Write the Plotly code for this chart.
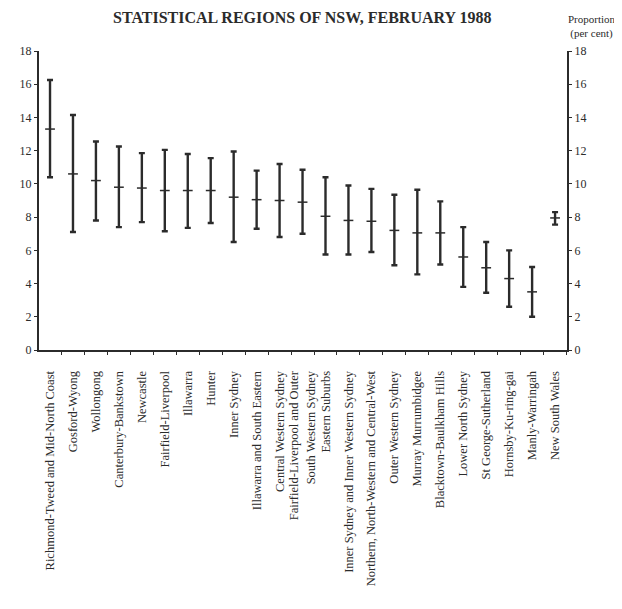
import plotly.graph_objects as go

regions = [
    "Richmond-Tweed and Mid-North Coast", "Gosford-Wyong", "Wollongong",
    "Canterbury-Bankstown", "Newcastle", "Fairfield-Liverpool", "Illawarra",
    "Hunter", "Inner Sydney", "Illawarra and South Eastern",
    "Central Western Sydney",
    "Fairfield-Liverpool and Outer<br>South Western Sydney",
    "Eastern Suburbs", "Inner Sydney and Inner Western Sydney",
    "Northern, North-Western and Central-West", "Outer Western Sydney",
    "Murray Murrumbidgee", "Blacktown-Baulkham Hills", "Lower North Sydney",
    "St George-Sutherland", "Hornsby-Ku-ring-gai", "Manly-Warringah",
    "New South Wales",
]
estimate = [13.3, 10.6, 10.2, 9.8, 9.75, 9.6, 9.6, 9.6, 9.2, 9.05, 9.0, 8.9,
            8.05, 7.8, 7.75, 7.2, 7.05, 7.05, 5.6, 4.95, 4.3, 3.5, 7.95]
upper = [16.25, 14.15, 12.55, 12.25, 11.85, 12.05, 11.8, 11.55, 11.95, 10.8,
         11.2, 10.85, 10.4, 9.9, 9.7, 9.35, 9.65, 8.95, 7.4, 6.5, 6.0, 5.0, 8.3]
lower = [10.4, 7.1, 7.8, 7.4, 7.7, 7.15, 7.35, 7.65, 6.5, 7.3, 6.8, 7.0,
         5.75, 5.75, 5.9, 5.1, 4.55, 5.15, 3.8, 3.45, 2.6, 2.0, 7.55]
y_ticks = [0, 2, 4, 6, 8, 10, 12, 14, 16, 18]

ink = "#2b2b2b"
serif = "Liberation Serif, Times New Roman, serif"

err_plus = [u - e for u, e in zip(upper, estimate)]
err_minus = [e - l for e, l in zip(estimate, lower)]

fig = go.Figure()
fig.add_trace(go.Scatter(
    x=regions, y=estimate, mode="markers",
    marker=dict(symbol="line-ew", size=7, line=dict(width=1.5, color=ink), color=ink),
    error_y=dict(type="data", symmetric=False, array=err_plus, arrayminus=err_minus,
                 color=ink, thickness=2.4, width=3),
    showlegend=False, hoverinfo="skip",
))
fig.add_trace(go.Scatter(x=regions, y=[None] * len(regions), yaxis="y2",
                         mode="markers", showlegend=False, hoverinfo="skip"))

axis_common = dict(range=[0, 18], tickvals=y_ticks, ticks="outside", ticklen=3,
                   tickwidth=1, tickcolor=ink, showline=True, linecolor=ink,
                   linewidth=2, showgrid=False, zeroline=False,
                   tickfont=dict(family=serif, size=12, color=ink))

fig.update_layout(
    width=614, height=601,
    margin=dict(l=27, r=55, t=43, b=259),
    paper_bgcolor="white", plot_bgcolor="white",
    font=dict(family=serif, color=ink),
    xaxis=dict(type="category", range=[-0.48, 22.52], tickangle=-90,
               tickson="boundaries", ticks="outside", ticklen=3, tickcolor=ink,
               ticklabelstandoff=14,
               showline=True, linecolor=ink, linewidth=2, showgrid=False,
               tickfont=dict(family=serif, size=12.5, color=ink)),
    yaxis=dict(side="left", **axis_common),
    yaxis2=dict(side="right", overlaying="y", **axis_common),
    annotations=[
        dict(text="<b>STATISTICAL REGIONS OF NSW, FEBRUARY 1988</b>",
             xref="paper", yref="paper", x=0.498, y=1.0, yshift=34,
             xanchor="center", yanchor="middle", showarrow=False,
             font=dict(family=serif, size=16, color=ink)),
        dict(text="Proportion<br>(per cent)", xref="paper", yref="paper",
             x=1.0, y=1.0, xshift=25, yshift=25, xanchor="center", yanchor="middle",
             showarrow=False, font=dict(family=serif, size=11, color=ink)),
    ],
)

fig.write_html("out.html")
